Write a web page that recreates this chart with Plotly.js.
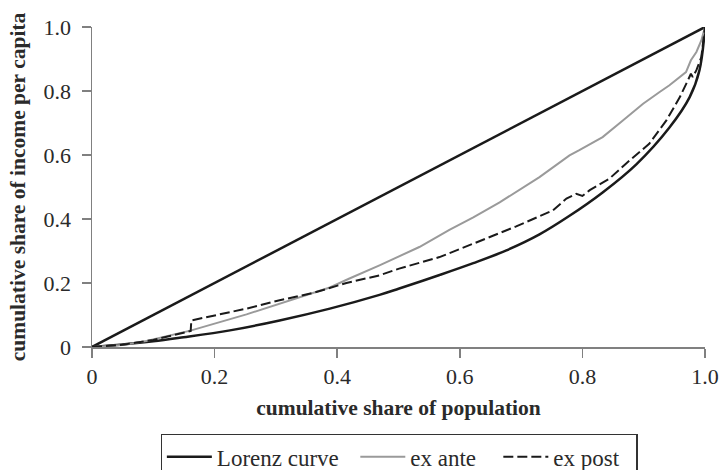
<!DOCTYPE html>
<html>
<head>
<meta charset="utf-8">
<script src="https://cdn.plot.ly/plotly-3.0.1.min.js"></script>
<style>html,body{margin:0;padding:0;background:#fff;}#chart{width:722px;height:470px;}</style>
</head>
<body>
<div id="chart"></div>
<script>
// Equality line
const equalityX = [0, 1];
const equalityY = [0, 1];

// Lorenz curve
const lorenzX = [0, 0.05, 0.10, 0.143, 0.225, 0.306, 0.388, 0.469, 0.50, 0.567, 0.622, 0.676, 0.730, 0.779, 0.833, 0.888, 0.942, 0.975, 0.991, 1.0];
const lorenzY = [0, 0.008, 0.018, 0.029, 0.052, 0.083, 0.120, 0.163, 0.182, 0.225, 0.262, 0.302, 0.352, 0.410, 0.483, 0.571, 0.686, 0.781, 0.865, 1.0];

// ex ante
const exAnteX = [0, 0.05, 0.089, 0.162, 0.252, 0.339, 0.388, 0.420, 0.469, 0.534, 0.567, 0.583, 0.622, 0.650, 0.665, 0.730, 0.745, 0.779, 0.795, 0.833, 0.866, 0.899, 0.926, 0.942, 0.969, 0.977, 0.986, 0.994, 1.0];
const exAnteY = [0, 0.006, 0.019, 0.052, 0.102, 0.156, 0.186, 0.214, 0.255, 0.3125, 0.349, 0.366, 0.405, 0.435, 0.452, 0.531, 0.552, 0.599, 0.615, 0.656, 0.708, 0.760, 0.797, 0.818, 0.859, 0.896, 0.922, 0.958, 1.0];

// ex post
const exPostX = [0, 0.05, 0.10, 0.161, 0.162, 0.252, 0.306, 0.361, 0.415, 0.469, 0.501, 0.567, 0.622, 0.649, 0.692, 0.752, 0.774, 0.790, 0.800, 0.812, 0.844, 0.871, 0.909, 0.937, 0.959, 0.972, 0.977, 0.980, 0.986, 0.994, 1.0];
const exPostY = [0, 0.007, 0.022, 0.050, 0.083, 0.120, 0.146, 0.169, 0.200, 0.224, 0.245, 0.281, 0.323, 0.344, 0.377, 0.427, 0.464, 0.479, 0.472, 0.490, 0.526, 0.573, 0.635, 0.708, 0.781, 0.833, 0.854, 0.844, 0.865, 0.906, 1.0];

const tickVals = [0, 0.2, 0.4, 0.6, 0.8, 1.0];
const tickText = ['0', '0.2', '0.4', '0.6', '0.8', '1.0'];

const FONT = 'Liberation Serif, Times New Roman, serif';

const traces = [
  {x: equalityX, y: equalityY, mode: 'lines', name: 'equality', showlegend: false,
   line: {color: '#1a1a1a', width: 2.5}, hoverinfo: 'skip'},
  {x: lorenzX, y: lorenzY, mode: 'lines', name: 'Lorenz curve&nbsp;&nbsp;',
   line: {color: '#1a1a1a', width: 2.5, shape: 'spline', smoothing: 1}},
  {x: exAnteX, y: exAnteY, mode: 'lines', name: 'ex ante&nbsp;&nbsp;&nbsp;',
   line: {color: '#9a9a9a', width: 2}},
  {x: exPostX, y: exPostY, mode: 'lines', name: 'ex post&nbsp;&nbsp;',
   line: {color: '#1a1a1a', width: 2, dash: '10px,4px'}}
];

const axisCommon = {
  range: [0, 1], tickmode: 'array', tickvals: tickVals, ticktext: tickText,
  ticks: 'outside', ticklen: 9, tickwidth: 1.5, tickcolor: '#808080',
  showline: true, linecolor: '#808080', linewidth: 1.5,
  showgrid: false, zeroline: false,
  tickfont: {family: FONT, size: 22, color: '#2a2a2a'}
};

const layout = {
  width: 722, height: 470,
  margin: {l: 92, r: 17, t: 27, b: 123, autoexpand: false},
  paper_bgcolor: '#fff', plot_bgcolor: '#fff',
  font: {family: FONT, color: '#2a2a2a'},
  xaxis: Object.assign({}, axisCommon, {
    title: {text: '<b>cumulative share of population</b>', font: {family: FONT, size: 21.5, color: '#2a2a2a'}, standoff: 12}
  }),
  yaxis: Object.assign({}, axisCommon, {
    ticklabelstandoff: 6,
    title: {text: '<b>cumulative share of income per capita</b>', font: {family: FONT, size: 21.5, color: '#2a2a2a'}, standoff: 12}
  }),
  showlegend: true,
  legend: {
    orientation: 'h', x: 0.112, xanchor: 'left', y: -0.272, yanchor: 'top',
    bordercolor: '#333', borderwidth: 1.2, bgcolor: '#fff',
    itemwidth: 45,
    font: {family: FONT, size: 23, color: '#2a2a2a'},
    traceorder: 'normal'
  }
};

Plotly.newPlot('chart', traces, layout, {displayModeBar: false, staticPlot: true});
</script>
</body>
</html>
